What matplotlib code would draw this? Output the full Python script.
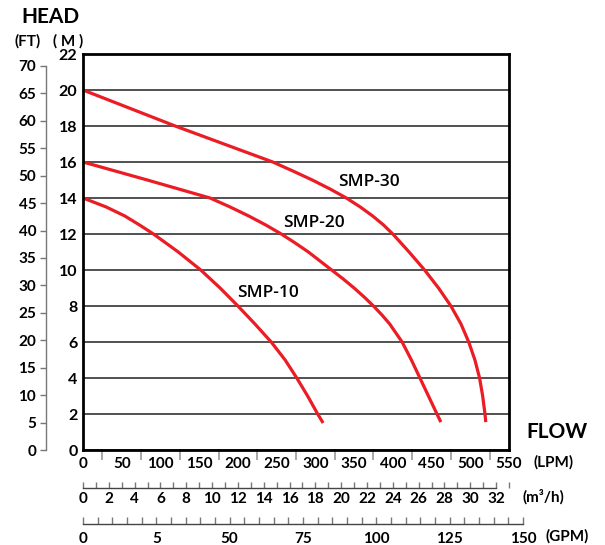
import matplotlib.pyplot as plt
from matplotlib.ticker import MultipleLocator, FixedLocator

# pump curves, flow in LPM, head in m
smp30_flow = [0, 119, 245, 271, 296, 319, 340, 358, 374, 388, 400, 421, 441, 459, 475, 488, 498, 506, 512, 516, 519, 520]
smp30_head = [20, 18, 16, 15.5, 15, 14.5, 14, 13.5, 13, 12.5, 12, 11, 10, 9, 8, 7, 6, 5, 4, 3, 2, 1.55]
smp20_flow = [0, 83, 164, 190, 214, 236, 256, 274, 291, 306, 321, 336, 350, 363, 375, 386, 396, 404, 412, 418, 424, 435, 446, 457, 462]
smp20_head = [16, 15, 14, 13.5, 13, 12.5, 12, 11.5, 11, 10.5, 10, 9.5, 9, 8.5, 8, 7.5, 7, 6.5, 6, 5.5, 5, 4, 3, 2, 1.55]
smp10_flow = [0, 30, 54, 73, 91, 123, 152, 177, 200, 222, 243, 261, 276, 290, 303, 310]
smp10_head = [14, 13.5, 13, 12.5, 12, 11, 10, 9, 8, 7, 6, 5, 4, 3, 2, 1.5]

labels = ["SMP-30", "SMP-20", "SMP-10"]
label_pos = [(369, 14.9), (298, 12.6), (239, 8.7)]

lpm_ticks = list(range(0, 551, 50))
m3h_ticks = list(range(0, 33, 2))
gpm_ticks = [0, 25, 50, 75, 100, 125, 150]
gpm_labels = ["0", "5", "50", "75", "100", "125", "150"]
ft_ticks = list(range(0, 71, 5))
m_ticks = list(range(0, 23, 2))

W, H = 605, 545
red = "#ec1c24"
font = "Lato"

def fx(px):
    return px / W

def fy(py):
    return 1 - py / H

def style_labels(labs):
    for t in labs:
        t.set_fontfamily(font)
        t.set_fontweight("bold")

fig = plt.figure(figsize=(W / 100, H / 100), dpi=100)
pos = [fx(83), fy(450), 426 / W, 396 / H]

# main chart
ax = fig.add_axes(pos)
ax.set_xlim(0, 550)
ax.set_ylim(0, 22)
ax.set_yticks(m_ticks)
ax.grid(axis="y", color="#222222", lw=1.1)
ax.set_axisbelow(True)
for s in ax.spines.values():
    s.set_linewidth(2)
    s.set_color("black")
ax.set_xticks(lpm_ticks)
ax.xaxis.set_minor_locator(FixedLocator(list(range(25, 550, 50))))
ax.tick_params(axis="x", which="major", length=0, pad=5, labelsize=11)
ax.tick_params(axis="x", which="minor", length=7, width=1.2, color="#999999")
ax.tick_params(axis="y", length=0, pad=4, labelsize=11.5)
style_labels(ax.get_xticklabels() + ax.get_yticklabels())

for q, h in [(smp30_flow, smp30_head), (smp20_flow, smp20_head), (smp10_flow, smp10_head)]:
    ax.plot(q, h, color=red, lw=2.3, solid_capstyle="butt", solid_joinstyle="round")
for lab, (x, y) in zip(labels, label_pos):
    ax.text(x, y, lab, ha="center", va="center", fontsize=12.5,
            family="Open Sans", fontweight="semibold")

# feet axis
axf = fig.add_axes(pos)
axf.patch.set_visible(False)
axf.set_ylim(0, 22 * 3.28084)
axf.set_xticks([])
for k in ["top", "right", "bottom"]:
    axf.spines[k].set_visible(False)
axf.spines["left"].set_position(("axes", -37 / 426))
axf.spines["left"].set_bounds(0, 70)
axf.spines["left"].set_color("#777777")
axf.spines["left"].set_linewidth(1)
axf.set_yticks(ft_ticks)
axf.tick_params(axis="y", length=4.5, width=1, color="#777777", pad=2.5, labelsize=11)
style_labels(axf.get_yticklabels())

# m3/h axis
axm = fig.add_axes(pos)
axm.patch.set_visible(False)
axm.set_xlim(0, 550 * 0.06)
axm.set_yticks([])
for k in ["top", "right", "left"]:
    axm.spines[k].set_visible(False)
axm.spines["bottom"].set_position(("axes", -38 / 396))
axm.spines["bottom"].set_bounds(0, 32)
axm.spines["bottom"].set_color("#444444")
axm.spines["bottom"].set_linewidth(1)
axm.set_xticks(m3h_ticks)
axm.xaxis.set_minor_locator(MultipleLocator(1))
axm.tick_params(axis="x", which="both", direction="in", length=4, width=1,
                color="#777777", pad=3, labelsize=11)
style_labels(axm.get_xticklabels())

# GPM axis
axg = fig.add_axes([fx(83), fy(450), 440 / W, 396 / H])
axg.patch.set_visible(False)
axg.set_xlim(0, 150)
axg.set_yticks([])
for k in ["top", "right", "left"]:
    axg.spines[k].set_visible(False)
axg.spines["bottom"].set_position(("axes", -74 / 396))
axg.spines["bottom"].set_bounds(0, 150)
axg.spines["bottom"].set_color("#444444")
axg.spines["bottom"].set_linewidth(1)
axg.set_xticks(gpm_ticks)
axg.set_xticklabels(gpm_labels)
axg.xaxis.set_minor_locator(MultipleLocator(5))
axg.tick_params(axis="x", which="both", direction="in", length=5, width=1,
                color="#777777", pad=6, labelsize=11)
style_labels(axg.get_xticklabels())

# titles and units
fig.text(fx(50), fy(17), "HEAD", ha="center", va="center", fontsize=15,
         family=font, fontweight="bold")
fig.text(fx(557), fy(432), "FLOW", ha="center", va="center", fontsize=15,
         family=font, fontweight="bold")
unit_kw = dict(ha="center", va="center", fontsize=11, family=font, fontweight="bold")
fig.text(fx(28), fy(41), "(FT)", **unit_kw)
fig.text(fx(68), fy(41), "( M )", **unit_kw)
fig.text(fx(554), fy(462), "(LPM)", **unit_kw)
fig.text(fx(543), fy(497), "(m³/h)", **unit_kw)
fig.text(fx(567), fy(536), "(GPM)", **unit_kw)

fig.savefig("out.png", dpi=100)
